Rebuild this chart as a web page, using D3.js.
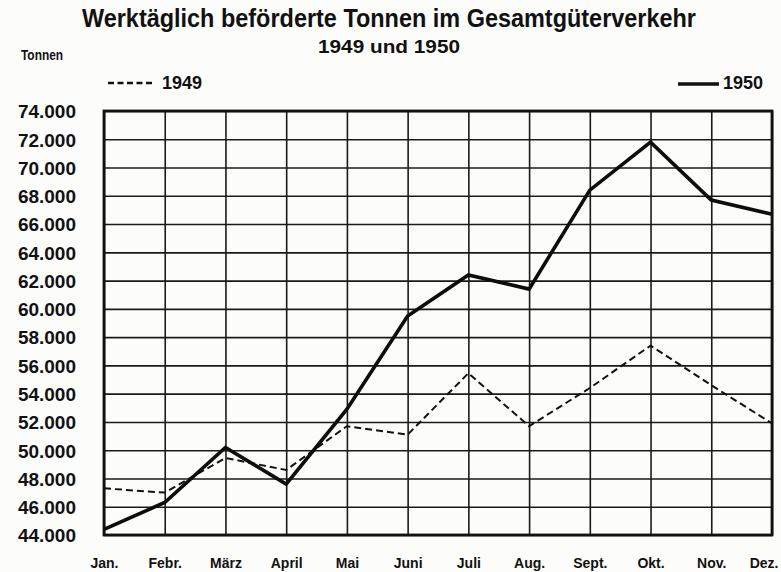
<!DOCTYPE html>
<html>
<head>
<meta charset="utf-8">
<script src="https://cdn.jsdelivr.net/npm/d3@7"></script>
<style>
  body { margin: 0; background: #fcfcfb; }
  svg { display: block; }
  .grid line { stroke: #1a1a1a; stroke-width: 1.6px; }
  .grid path { display: none; }
  .ylab text { font-family: "Liberation Sans", Arial, sans-serif; font-weight: bold; font-size: 19px; fill: #111; }
  .xlab text { font-family: "Liberation Sans Narrow", "Liberation Sans", sans-serif; font-weight: bold; font-size: 14px; fill: #111; }
</style>
</head>
<body>
<div id="chart"></div>
<script>
// Daten: werktäglich beförderte Tonnen, 1949 und 1950
const months = ["Jan.", "Febr.", "März", "April", "Mai", "Juni", "Juli", "Aug.", "Sept.", "Okt.", "Nov.", "Dez."];
const values1949 = [47300, 47000, 49450, 48600, 51700, 51100, 55450, 51700, 54400, 57400, 54600, 51900];
const values1950 = [44400, 46300, 50200, 47600, 52900, 59500, 62400, 61400, 68400, 71800, 67700, 66700];
const yTicks = [44000, 46000, 48000, 50000, 52000, 54000, 56000, 58000, 60000, 62000, 64000, 66000, 68000, 70000, 72000, 74000];

const W = 781, H = 572;
const plotLeft = 104, plotRight = 772, plotTop = 111, plotBottom = 535;

const svg = d3.select("#chart").append("svg")
    .attr("width", W)
    .attr("height", H);

const x = d3.scalePoint().domain(months).range([plotLeft, plotRight]);
const y = d3.scaleLinear().domain([44000, 74000]).range([plotBottom, plotTop]);

const de = d3.formatLocale({ decimal: ",", thousands: ".", grouping: [3], currency: ["", " DM"] });
const fmt = de.format(",");

// Gitter waagerecht
svg.append("g")
    .attr("class", "grid")
    .attr("transform", `translate(${plotLeft},0)`)
    .call(d3.axisLeft(y).tickValues(yTicks).tickSize(-(plotRight - plotLeft)).tickFormat(""));

// Gitter senkrecht
svg.append("g")
    .attr("class", "grid")
    .attr("transform", `translate(0,${plotBottom})`)
    .call(d3.axisBottom(x).tickSize(-(plotBottom - plotTop)).tickFormat(""));

// Rahmen
svg.append("rect")
    .attr("x", plotLeft).attr("y", plotTop)
    .attr("width", plotRight - plotLeft).attr("height", plotBottom - plotTop)
    .attr("fill", "none")
    .attr("stroke", "#111")
    .attr("stroke-width", 2.8);

// Beschriftung y
svg.append("g")
    .attr("class", "ylab")
    .attr("transform", `translate(${plotLeft - 28},0)`)
    .call(d3.axisLeft(y).tickValues(yTicks).tickSize(0).tickPadding(0).tickFormat(fmt))
    .call(g => g.select(".domain").remove())
    .call(g => g.selectAll("text").attr("dy", "0.36em"));

// Beschriftung x (Dez. am rechten Rand bündig)
svg.append("g")
    .attr("class", "xlab")
    .attr("transform", `translate(0,${plotBottom + 23})`)
    .call(d3.axisBottom(x).tickSize(0).tickPadding(0))
    .call(g => g.select(".domain").remove())
    .call(g => g.selectAll("text").attr("dy", "0.71em"))
    .call(g => g.selectAll("text").filter(d => d === "Dez.")
        .attr("text-anchor", "end").attr("x", 6));

const line = d3.line()
    .x((d, i) => x(months[i]))
    .y(d => y(d));

svg.append("path")
    .datum(values1949)
    .attr("d", line)
    .attr("fill", "none")
    .attr("stroke", "#111")
    .attr("stroke-width", 2)
    .attr("stroke-dasharray", "7,4");

svg.append("path")
    .datum(values1950)
    .attr("d", line)
    .attr("fill", "none")
    .attr("stroke", "#0d0d0d")
    .attr("stroke-width", 3.6)
    .attr("stroke-linejoin", "miter");

// Titel
svg.append("text")
    .attr("x", 82).attr("y", 27)
    .attr("textLength", 614).attr("lengthAdjust", "spacingAndGlyphs")
    .style("font-family", "'Liberation Sans', Arial, sans-serif")
    .style("font-weight", "bold").style("font-size", "25px").style("fill", "#111")
    .text("Werktäglich beförderte Tonnen im Gesamtgüterverkehr");

svg.append("text")
    .attr("x", 318).attr("y", 53)
    .attr("textLength", 142).attr("lengthAdjust", "spacingAndGlyphs")
    .style("font-family", "'Liberation Sans', Arial, sans-serif")
    .style("font-weight", "bold").style("font-size", "19px").style("fill", "#111")
    .text("1949 und 1950");

svg.append("text")
    .attr("x", 21).attr("y", 60)
    .attr("textLength", 42).attr("lengthAdjust", "spacingAndGlyphs")
    .style("font-family", "'Liberation Sans Narrow', 'Liberation Sans', sans-serif")
    .style("font-weight", "bold").style("font-size", "15px").style("fill", "#111")
    .text("Tonnen");

// Legende
const legend = svg.append("g")
    .style("font-family", "'Liberation Sans', Arial, sans-serif")
    .style("font-weight", "bold").style("font-size", "18px").style("fill", "#111");

legend.append("line")
    .attr("x1", 108).attr("x2", 153).attr("y1", 83).attr("y2", 83)
    .attr("stroke", "#111").attr("stroke-width", 2.6).attr("stroke-dasharray", "6,3.5");
legend.append("text").attr("x", 162).attr("y", 89).text("1949");

legend.append("line")
    .attr("x1", 678).attr("x2", 719).attr("y1", 84).attr("y2", 84)
    .attr("stroke", "#111").attr("stroke-width", 3.6);
legend.append("text").attr("x", 723).attr("y", 89).text("1950");
</script>
</body>
</html>
